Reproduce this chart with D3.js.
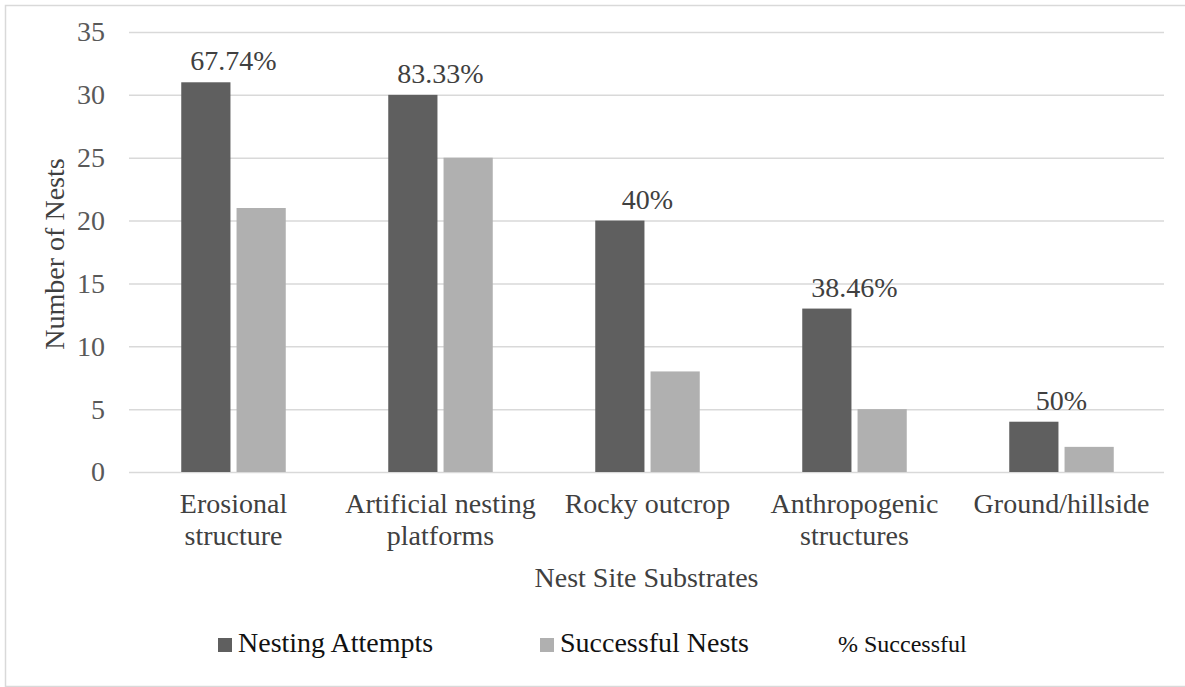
<!DOCTYPE html>
<html>
<head>
<meta charset="utf-8">
<script src="https://cdn.jsdelivr.net/npm/d3@7/dist/d3.min.js"></script>
<style>
  html, body { margin: 0; padding: 0; background: #fff; }
  svg { display: block; }
  text { font-family: "Liberation Serif", "Times New Roman", serif; }
</style>
</head>
<body>
<svg id="chart" width="1185" height="687"></svg>
<script>
// Nest site substrates and nest counts
const categories = [
  ["Erosional", "structure"],
  ["Artificial nesting", "platforms"],
  ["Rocky outcrop"],
  ["Anthropogenic", "structures"],
  ["Ground/hillside"]
];
const nestingAttempts = [31, 30, 20, 13, 4];
const successfulNests = [21, 25, 8, 5, 2];
const pctSuccessful = ["67.74%", "83.33%", "40%", "38.46%", "50%"];
const yTicks = [0, 5, 10, 15, 20, 25, 30, 35];
const seriesNames = ["Nesting Attempts", "Successful Nests", "% Successful"];

const svg = d3.select("#chart");
const W = 1185, H = 687;

// outer chart frame
svg.append("rect")
  .attr("x", 5.5).attr("y", 5.5)
  .attr("width", W + 10).attr("height", H - 6)
  .attr("fill", "#fff").attr("stroke", "#d9d9d9").attr("stroke-width", 1.5);

const plot = { left: 130, right: 1165, top: 32, bottom: 472 };

const x = d3.scaleBand()
  .domain(d3.range(categories.length))
  .range([plot.left, plot.right])
  .paddingInner(0).paddingOuter(0);

const y = d3.scaleLinear().domain([0, 35]).range([plot.bottom, plot.top]);

// grouped bars inside each band
const barW = 46.5, barGap = 11.5;
const groupW = 2 * barW + barGap;
const sub = d3.scaleBand()
  .domain([0, 1])
  .range([0, groupW])
  .paddingInner(barGap / groupW).paddingOuter(0);

// horizontal gridlines
const yAxis = d3.axisLeft(y).tickValues(yTicks).tickSize(-(plot.right - plot.left)).tickPadding(24);
const gy = svg.append("g").attr("transform", `translate(${plot.left - 1},0)`).call(yAxis);
gy.select(".domain").remove();
gy.selectAll(".tick line").attr("stroke", "#d9d9d9").attr("stroke-width", 1.5);
gy.selectAll(".tick text")
  .attr("fill", "#595959").attr("font-size", 28)
  .style("font-family", "Liberation Serif, serif");

const colors = ["#5f5f5f", "#b0b0b0"];
const series = [nestingAttempts, successfulNests];

const groups = svg.append("g").selectAll("g")
  .data(categories.map((c, i) => i))
  .join("g")
  .attr("transform", i => `translate(${x(i) + (x.bandwidth() - groupW) / 2},0)`);

groups.selectAll("rect")
  .data(i => series.map((s, k) => ({ k, v: s[i] })))
  .join("rect")
  .attr("x", d => sub(d.k))
  .attr("width", sub.bandwidth())
  .attr("y", d => y(d.v))
  .attr("height", d => y(0) - y(d.v))
  .attr("fill", d => colors[d.k]);

// percent-successful labels above the attempts bars
svg.append("g").selectAll("text")
  .data(pctSuccessful)
  .join("text")
  .attr("x", (d, i) => x(i) + x.bandwidth() / 2)
  .attr("y", (d, i) => y(nestingAttempts[i]) - 12)
  .attr("text-anchor", "middle")
  .attr("font-size", 28)
  .attr("fill", "#404040")
  .text(d => d);

// category labels
const xl = svg.append("g").selectAll("text")
  .data(categories)
  .join("text")
  .attr("x", (d, i) => x(i) + x.bandwidth() / 2)
  .attr("y", 513)
  .attr("text-anchor", "middle")
  .attr("font-size", 28)
  .attr("fill", "#404040");
xl.selectAll("tspan")
  .data(d => d)
  .join("tspan")
  .attr("x", function () { return this.parentNode.getAttribute("x"); })
  .attr("dy", (d, j) => j === 0 ? 0 : 32)
  .text(d => d);

// axis titles
svg.append("text")
  .attr("x", (plot.left + plot.right) / 2 - 1)
  .attr("y", 587)
  .attr("text-anchor", "middle")
  .attr("font-size", 28)
  .attr("fill", "#404040")
  .text("Nest Site Substrates");

svg.append("text")
  .attr("transform", "translate(64,254) rotate(-90)")
  .attr("text-anchor", "middle")
  .attr("font-size", 28)
  .attr("fill", "#404040")
  .text("Number of Nests");

// legend
const legendX = [218, 540, 838];
const lg = svg.append("g");
seriesNames.forEach((name, k) => {
  if (k < 2) {
    lg.append("rect")
      .attr("x", legendX[k]).attr("y", 638)
      .attr("width", 14).attr("height", 14)
      .attr("fill", colors[k]);
  }
  lg.append("text")
    .attr("x", k < 2 ? legendX[k] + 20 : legendX[k])
    .attr("y", 652)
    .attr("font-size", k < 2 ? 28 : 24)
    .attr("fill", "#111")
    .text(name);
});
</script>
</body>
</html>
